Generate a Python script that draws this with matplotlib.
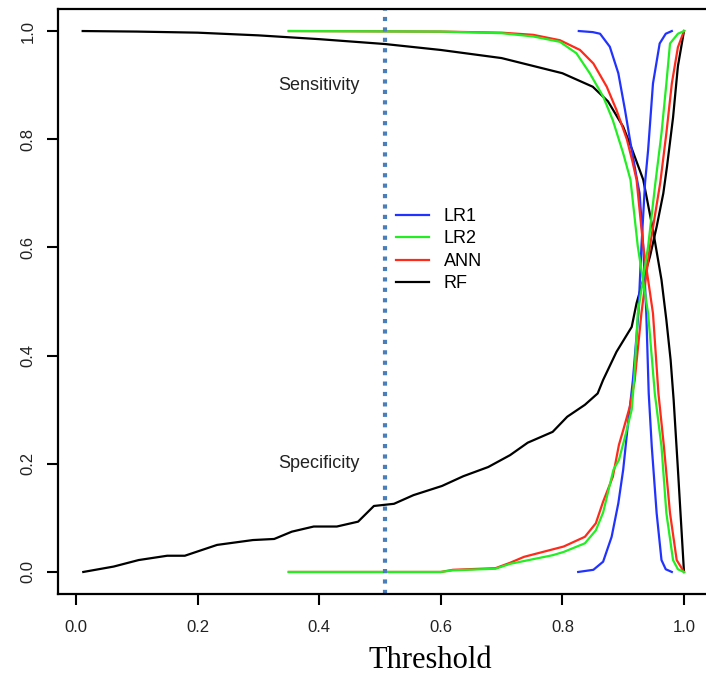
import numpy as np
import matplotlib.pyplot as plt

# threshold / value pairs for each model, sensitivity falls and specificity rises
lr1_sens_x = [0.827, 0.85, 0.862, 0.878, 0.892, 0.903, 0.911, 0.922, 0.927, 0.933, 0.938, 0.942, 0.947, 0.955, 0.963, 0.97, 0.98]
lr1_sens_y = [1.0, 0.998, 0.995, 0.971, 0.922, 0.854, 0.80, 0.73, 0.70, 0.602, 0.478, 0.33, 0.232, 0.109, 0.022, 0.005, 0.0]
lr1_spec_x = [0.826, 0.851, 0.867, 0.881, 0.892, 0.90, 0.908, 0.916, 0.925, 0.93, 0.936, 0.941, 0.949, 0.96, 0.97, 0.98]
lr1_spec_y = [0.0, 0.004, 0.019, 0.065, 0.127, 0.189, 0.275, 0.355, 0.478, 0.602, 0.72, 0.78, 0.903, 0.977, 0.995, 1.0]

lr2_sens_x = [0.35, 0.6, 0.7, 0.752, 0.796, 0.823, 0.845, 0.867, 0.883, 0.90, 0.912, 0.924, 0.941, 0.952, 0.963, 0.971, 0.982, 0.99, 1.0]
lr2_sens_y = [1.0, 0.999, 0.996, 0.99, 0.98, 0.959, 0.922, 0.879, 0.835, 0.774, 0.725, 0.602, 0.478, 0.33, 0.232, 0.109, 0.022, 0.005, 0.0]
lr2_spec_x = [0.35, 0.60, 0.62, 0.69, 0.714, 0.784, 0.802, 0.837, 0.855, 0.867, 0.884, 0.893, 0.903, 0.914, 0.918, 0.924, 0.941, 0.953, 0.963, 0.971, 0.977, 0.99, 1.0]
lr2_spec_y = [0.0, 0.0, 0.003, 0.006, 0.015, 0.031, 0.037, 0.053, 0.077, 0.11, 0.189, 0.207, 0.25, 0.30, 0.355, 0.478, 0.602, 0.72, 0.811, 0.903, 0.977, 0.995, 1.0]

ann_sens_x = [0.35, 0.6, 0.7, 0.752, 0.796, 0.829, 0.851, 0.873, 0.889, 0.906, 0.915, 0.922, 0.933, 0.949, 0.958, 0.967, 0.977, 0.988, 1.0]
ann_sens_y = [1.0, 0.999, 0.997, 0.993, 0.983, 0.965, 0.94, 0.897, 0.854, 0.80, 0.76, 0.725, 0.602, 0.478, 0.33, 0.232, 0.109, 0.022, 0.0]
ann_spec_x = [0.35, 0.60, 0.62, 0.69, 0.714, 0.737, 0.802, 0.837, 0.855, 0.867, 0.883, 0.893, 0.90, 0.911, 0.919, 0.93, 0.944, 0.961, 0.971, 0.98, 0.99, 1.0]
ann_spec_y = [0.0, 0.0, 0.004, 0.007, 0.017, 0.028, 0.047, 0.065, 0.09, 0.13, 0.176, 0.235, 0.262, 0.306, 0.355, 0.478, 0.602, 0.72, 0.811, 0.903, 0.97, 1.0]

rf_sens_x = [0.011, 0.1, 0.2, 0.3, 0.4, 0.508, 0.6, 0.7, 0.8, 0.85, 0.875, 0.9, 0.915, 0.933, 0.949, 0.963, 0.971, 0.978, 0.983, 0.99, 1.0]
rf_sens_y = [1.0, 0.999, 0.997, 0.992, 0.985, 0.976, 0.965, 0.95, 0.922, 0.897, 0.87, 0.823, 0.78, 0.725, 0.632, 0.54, 0.466, 0.392, 0.318, 0.19, 0.0]
rf_spec_x = [0.012, 0.062, 0.103, 0.15, 0.179, 0.232, 0.291, 0.326, 0.355, 0.391, 0.429, 0.464, 0.49, 0.523, 0.555, 0.602,
             0.637, 0.678, 0.714, 0.743, 0.784, 0.808, 0.837, 0.858, 0.867, 0.889, 0.914, 0.922, 0.933, 0.944, 0.955,
             0.966, 0.972, 0.982, 0.99, 1.0]
rf_spec_y = [0.0, 0.01, 0.022, 0.03, 0.03, 0.05, 0.059, 0.061, 0.0745, 0.084, 0.084, 0.093, 0.122, 0.126, 0.142, 0.159,
             0.177, 0.194, 0.216, 0.239, 0.259, 0.287, 0.309, 0.33, 0.355, 0.407, 0.453, 0.497, 0.54, 0.583, 0.638,
             0.70, 0.749, 0.84, 0.935, 1.0]

cutoff = 0.508

plt.rcParams['font.family'] = ['Liberation Sans', 'DejaVu Sans']

W, H = 706, 675
fig = plt.figure(figsize=(W / 100, H / 100), dpi=100)
ax = fig.add_axes([58 / W, (H - 593.6) / H, 650 / W, 584.2 / H])

lw = 1.6
ax.plot(rf_sens_x, rf_sens_y, color='black', lw=lw)
ax.plot(rf_spec_x, rf_spec_y, color='black', lw=lw)
ax.plot(lr1_sens_x, lr1_sens_y, color='#2233ff', lw=lw)
ax.plot(lr1_spec_x, lr1_spec_y, color='#2233ff', lw=lw)
ax.plot(ann_sens_x, ann_sens_y, color='#ff2a1a', lw=lw)
ax.plot(ann_spec_x, ann_spec_y, color='#ff2a1a', lw=lw)
ax.plot(lr2_sens_x, lr2_sens_y, color='#22ee22', lw=lw)
ax.plot(lr2_spec_x, lr2_spec_y, color='#22ee22', lw=lw)

ax.axvline(cutoff, color='#4a7ebb', lw=3, linestyle=(0, (1, 1.5)), dash_capstyle='butt')

ax.text(0.4, 0.9, 'Sensitivity', fontsize=13, color='#222222', ha='center', va='center')
ax.text(0.4, 0.2, 'Specificity', fontsize=13, color='#222222', ha='center', va='center')

# proxy lines for the legend
handles = [plt.Line2D([], [], color=c, lw=lw) for c in ['#2233ff', '#22ee22', '#ff2a1a', 'black']]
fig.legend(handles, ['LR1', 'LR2', 'ANN', 'RF'], loc='upper left',
           bbox_to_anchor=(396 / W, 1 - 208 / H), frameon=False, fontsize=13,
           handlelength=1.8, handletextpad=0.85, labelspacing=0.3, borderpad=0, borderaxespad=0)

ax.set_xlim(-0.0296, 1.0395)
ax.set_ylim(-0.04, 1.04)
ax.set_xticks([0.0, 0.2, 0.4, 0.6, 0.8, 1.0])
ax.set_yticks([0.0, 0.2, 0.4, 0.6, 0.8, 1.0])
ax.set_xticklabels(['0.0', '0.2', '0.4', '0.6', '0.8', '1.0'])
ax.set_yticklabels(['0.0', '0.2', '0.4', '0.6', '0.8', '1.0'], rotation=90, va='center')
ax.tick_params(length=8, width=1.5, labelsize=12, labelcolor='#222222')
ax.tick_params(axis='x', pad=11)
ax.tick_params(axis='y', pad=8)
for s in ax.spines.values():
    s.set_linewidth(1.6)

fig.text(430 / W, 1 - 660 / H, 'Threshold', family=['Liberation Serif'], fontsize=22,
         ha='center', va='center', color='black')

fig.savefig('out.png', dpi=100)
